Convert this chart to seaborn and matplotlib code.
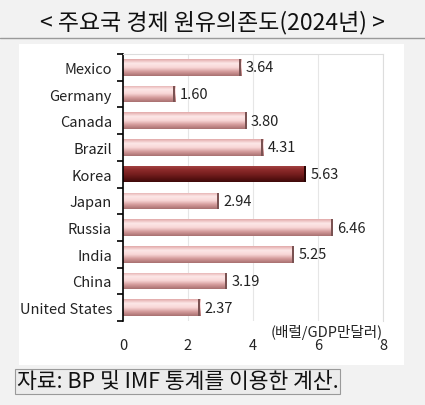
import numpy as np
import pandas as pd
import matplotlib
matplotlib.use('Agg')
import matplotlib.pyplot as plt
import seaborn as sns
from matplotlib.colors import LinearSegmentedColormap
from matplotlib.patches import Rectangle
from matplotlib.lines import Line2D

countries = ['Mexico', 'Germany', 'Canada', 'Brazil', 'Korea', 'Japan',
             'Russia', 'India', 'China', 'United States']
values = [3.64, 1.60, 3.80, 4.31, 5.63, 2.94, 6.46, 5.25, 3.19, 2.37]
highlight = 'Korea'
x_ticks = [0, 2, 4, 6, 8]

title = '< 주요국 경제 원유의존도(2024년) >'
unit = '(배럴/GDP만달러)'
source = '자료: BP 및 IMF 통계를 이용한 계산.'

sns.set_theme(style='white')
plt.rcParams['font.family'] = ['Noto Sans CJK KR', 'DejaVu Sans']

df = pd.DataFrame({'country': countries, 'value': values})

fig = plt.figure(figsize=(4.25, 4.06), dpi=100)
fig.patch.set_facecolor('#f2f2f2')

# white panel behind the chart
fig.patches.append(Rectangle((0.045, 0.098), 0.905, 0.79, transform=fig.transFigure,
                             facecolor='white', edgecolor='none', zorder=-1))
# title underline
fig.lines.append(Line2D([0, 1], [0.904, 0.904], transform=fig.transFigure,
                        color='#9a9a9a', lw=1.0))
fig.text(0.5, 0.915, title, ha='center', va='bottom', fontsize=16.5, color='#111111',
         fontweight='medium')

ax = fig.add_axes([0.2894, 0.2069, 0.6118, 0.6576])
sns.barplot(data=df, x='value', y='country', orient='h', color='#f3c8c8',
            width=0.62, ax=ax, saturation=1)

pink = LinearSegmentedColormap.from_list('pink', ['#e2a9a9', '#fde8e8', '#f8d6d6', '#d39a9a', '#a87070'])
dark = LinearSegmentedColormap.from_list('dark', ['#a84848', '#8e2c2c', '#7a2020', '#5e1414', '#400a0a'])

for bar, name in zip(ax.patches, df['country']):
    x0, y0 = bar.get_x(), bar.get_y()
    w, h = bar.get_width(), bar.get_height()
    cmap = dark if name == highlight else pink
    grad = np.linspace(0, 1, 64).reshape(-1, 1)
    img = ax.imshow(grad, cmap=cmap, aspect='auto', extent=(x0, x0 + w, y0 + h, y0),
                    origin='upper', zorder=2, interpolation='bilinear')
    img.set_clip_path(bar)
    bar.set_facecolor('none')
    bar.set_edgecolor('none')
    # darker end cap
    cap_col = '#2a0505' if name == highlight else '#7a5252'
    ax.add_patch(Rectangle((x0 + w - 0.06, y0), 0.06, h, facecolor=cap_col,
                           edgecolor='none', zorder=3))
    ax.text(x0 + w + 0.14, y0 + h / 2, f'{w:.2f}', va='center', ha='left',
            fontsize=10.5, color='#222222', zorder=4)

ax.set_xlim(0, 8)
ax.set_ylim(len(countries) - 0.5, -0.5)
ax.set_xticks(x_ticks)
ax.set_xticklabels([str(t) for t in x_ticks], fontsize=10.5, color='#222222')
ax.set_yticks(range(len(countries)))
ax.set_yticklabels(countries, fontsize=10.5, color='#222222')
ax.set_yticks(np.arange(-0.5, len(countries), 1), minor=True)
ax.tick_params(axis='y', which='major', length=0, pad=8)
ax.tick_params(axis='y', which='minor', length=4, width=1.2, color='black', direction='out', left=True)
ax.tick_params(axis='x', length=0, pad=12)
ax.set_xlabel('')
ax.set_ylabel('')
ax.grid(axis='x', color='#e6e6e6', lw=0.8, zorder=0)
ax.set_axisbelow(True)
for side in ['top', 'right']:
    ax.spines[side].set_visible(True)
    ax.spines[side].set_color('#dddddd')
    ax.spines[side].set_linewidth(0.8)
ax.spines['bottom'].set_visible(False)
ax.spines['left'].set_color('black')
ax.spines['left'].set_linewidth(1.2)

ax.text(8.0, len(countries) - 0.5 + 0.1, unit, fontsize=10.5, color='#222222',
        ha='right', va='top', clip_on=False)

fig.text(0.04, 0.058, source, ha='left', va='center', fontsize=15.5, color='#111111',
         bbox=dict(boxstyle='square,pad=0.08', facecolor='#ececec', edgecolor='#9a9a9a', lw=0.8))

fig.savefig('out.png', dpi=100)
